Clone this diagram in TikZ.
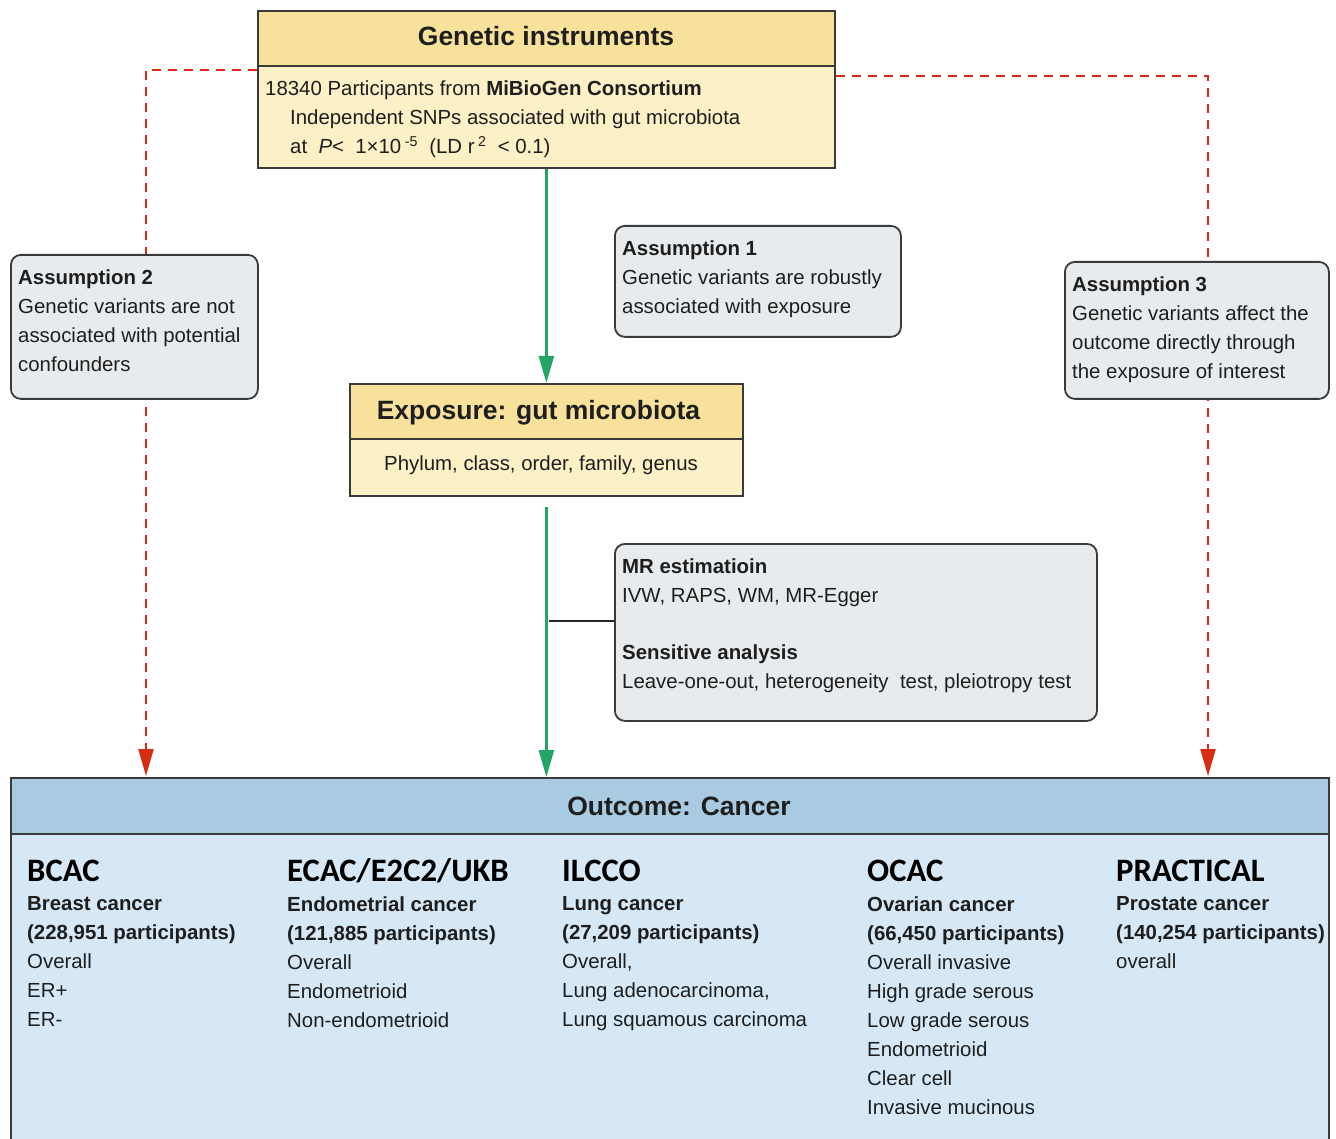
\documentclass[tikz,border=0pt]{standalone}
\usepackage{fontspec}
\setmainfont{Liberation Sans}
\newfontfamily\calfont{Carlito}
\usetikzlibrary{arrows.meta,calc}
\definecolor{bord}{HTML}{3A3A3A}
\definecolor{yelhead}{HTML}{F8E29B}
\definecolor{yelbody}{HTML}{FCF0C6}
\definecolor{graybox}{HTML}{E8EBED}
\definecolor{bluehead}{HTML}{A9CBE2}
\definecolor{bluebody}{HTML}{D6E8F6}
\definecolor{redc}{HTML}{D72B12}
\definecolor{greenc}{HTML}{22A565}
\definecolor{txtc}{HTML}{1E1E1E}
\tikzset{
  boxline/.style={draw=bord, line width=1.8pt},
  sqbox/.style={boxline, anchor=north west, inner sep=0pt},
  rbox/.style={boxline, fill=graybox, rounded corners=10pt, anchor=north west, inner sep=0pt},
  txt/.style={anchor=north west, inner sep=0pt, align=left, text=txtc, font=\fontsize{20.4}{29}\selectfont},
  ttl/.style={anchor=base, inner sep=0pt, text=txtc, font=\fontsize{26.5}{30}\selectfont\bfseries},
  colhead/.style={anchor=base west, inner sep=0pt, text=black, font=\fontsize{32.7}{36}\selectfont\calfont\bfseries},
  reddash/.style={draw=redc, line width=2.3pt, dash pattern=on 9pt off 7pt, -{Triangle[length=27pt,width=15pt,fill=redc]}},
  greenarrow/.style={draw=greenc, line width=2.4pt, -{Triangle[length=27pt,width=15pt,fill=greenc]}},
  tapline/.style={draw=black!85, line width=2.2pt}
}
\begin{document}
\begin{tikzpicture}[x=1pt,y=-1pt]
\useasboundingbox[fill=white] (0,0) rectangle (1336,1139);

% ---- boxes (square) ----
\node[sqbox, fill=yelhead, minimum width=577pt, minimum height=55pt] (gih) at (257,10) {};
\node[sqbox, fill=yelbody, minimum width=577pt, minimum height=102pt] (gib) at (257,65) {};
\node[sqbox, fill=yelhead, minimum width=393pt, minimum height=55pt] (exh) at (349,383) {};
\node[sqbox, fill=yelbody, minimum width=393pt, minimum height=57pt] (exb) at (349,438) {};
\node[sqbox, fill=bluebody, minimum width=1318pt, minimum height=380pt] (outb) at (10,833) {};
\node[sqbox, fill=bluehead, minimum width=1318pt, minimum height=56pt] (outh) at (10,777) {};

% ---- dashed red connectors (behind assumption boxes) ----
\draw[reddash] ($(gib.north west)+(0,5)$) -| ($(outh.north west)+(136,-1)$);
\draw[reddash] ($(gib.north east)+(0,11)$) -| ($(outh.north west)+(1198,-1)$);

% ---- rounded boxes ----
\node[rbox, minimum width=286pt, minimum height=111pt] (a1) at (614,225) {};
\node[rbox, minimum width=247pt, minimum height=144pt] (a2) at (10,254) {};
\node[rbox, minimum width=264pt, minimum height=137pt] (a3) at (1064,261) {};
\node[rbox, minimum width=482pt, minimum height=177pt] (mr) at (614,543) {};

% ---- green connectors ----
\draw[greenarrow] (gib.south) -- (exh.north);
\coordinate (g2) at ($(exb.south)+(0,10)$);
\draw[greenarrow] (g2) -- (g2 |- outh.north);
\coordinate (tap) at ($(exb.south)+(3,124)$);
\draw[tapline] (tap) -- (tap -| mr.west);

% ---- titles ----
\node[ttl] (git) at (546,46) {Genetic instruments};
\node[ttl] (ext) at (538.5,420) {Exposure: gut microbiota};
\node[ttl] (outt) at (679,815) {Outcome: Cancer};

% ---- texts ----
\node[txt] (gi1) at (265,80.6) {18340 Participants from \textbf{MiBioGen Consortium}};
\node[txt] (gi2) at (290,109.6) {Independent SNPs associated with gut microbiota\\
at \ \textit{P}< \ 1×10\,\textsuperscript{-5} \ (LD r\,\textsuperscript{2} \ < 0.1)};
\node[anchor=base, inner sep=0pt, text=txtc, font=\fontsize{20.4}{29}\selectfont] (exbt) at (541,470) {Phylum, class, order, family, genus};

\node[txt] (a1t) at (622,240.6) {\textbf{Assumption 1}\\Genetic variants are robustly\\associated with exposure};
\node[txt] (a2t) at (18,269.6) {\textbf{Assumption 2}\\Genetic variants are not\\associated with potential\\confounders};
\node[txt] (a3t) at (1072,276.6) {\textbf{Assumption 3}\\Genetic variants affect the\\outcome directly through\\the exposure of interest};
\node[txt] (mrt1) at (622,558.6) {\textbf{MR estimatioin}\\IVW, RAPS, WM, MR-Egger};
\node[txt] (mrt2) at (622,644.6) {\textbf{Sensitive analysis}\\Leave-one-out, heterogeneity \ test, pleiotropy test};

% ---- outcome columns ----
\node[colhead] (h1) at (27,881) {BCAC};
\node[colhead] (h2) at (287,881) {ECAC/E2C2/UKB};
\node[colhead] (h3) at (562,881) {ILCCO};
\node[colhead] (h4) at (867,881) {OCAC};
\node[colhead] (h5) at (1116,881) {PRACTICAL};

\node[txt] (c1) at (27,896.6) {\textbf{Breast cancer}\\\textbf{(228,951 participants)}\\Overall\\ER+\\ER-};
\node[txt] (c2) at (287,896.6) {\textbf{Endometrial cancer}\\\textbf{(121,885 participants)}\\Overall\\Endometrioid\\Non-endometrioid};
\node[txt] (c3) at (562,896.6) {\textbf{Lung cancer}\\\textbf{(27,209 participants)}\\Overall,\\Lung adenocarcinoma,\\Lung squamous carcinoma};
\node[txt] (c4) at (867,896.6) {\textbf{Ovarian cancer}\\\textbf{(66,450 participants)}\\Overall invasive\\High grade serous\\Low grade serous\\Endometrioid\\Clear cell\\Invasive mucinous};
\node[txt] (c5) at (1116,896.6) {\textbf{Prostate cancer}\\\textbf{(140,254 participants)}\\overall};
\end{tikzpicture}
\end{document}
